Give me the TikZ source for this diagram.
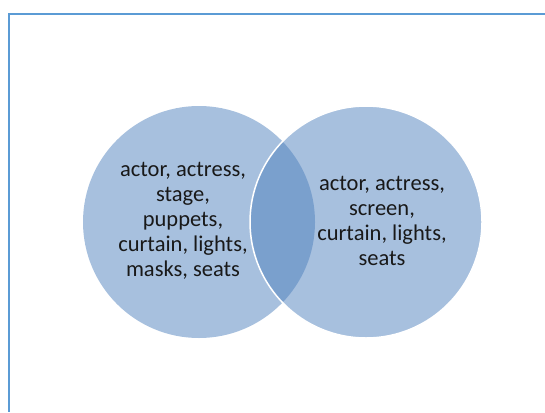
\documentclass[tikz,border=0pt]{standalone}
\usepackage{fontspec}
\setmainfont{Carlito}
\definecolor{vennblue}{RGB}{79,129,189}
\definecolor{frameblue}{RGB}{91,155,213}

\begin{document}
\begin{tikzpicture}[x=1pt, y=-1pt,
    venn/.style={circle, minimum size=232pt, inner sep=0pt, fill=vennblue, fill opacity=.5},
    words/.style={align=center, text=black!90, text opacity=1, font=\fontsize{22.5}{25}\selectfont}]
      \useasboundingbox (0, 0) rectangle (545, 412);
      % frame
      \draw[frameblue, line width=2.2pt] (545, 14) -- (9, 14) -- (9, 412);
      % the two sets
      \node[venn] (theatre) at (199, 222) {};
      \node[venn, draw=white, line width=1.5pt] (cinema) at (366, 222) {};
      \node[words] (theatrewords) at (183, 221) {actor, actress,\\stage,\\puppets,\\curtain, lights,\\masks, seats};
      \node[words] (cinemawords) at (382, 221) {actor, actress,\\screen,\\curtain, lights,\\seats};
    \end{tikzpicture}
\end{document}
